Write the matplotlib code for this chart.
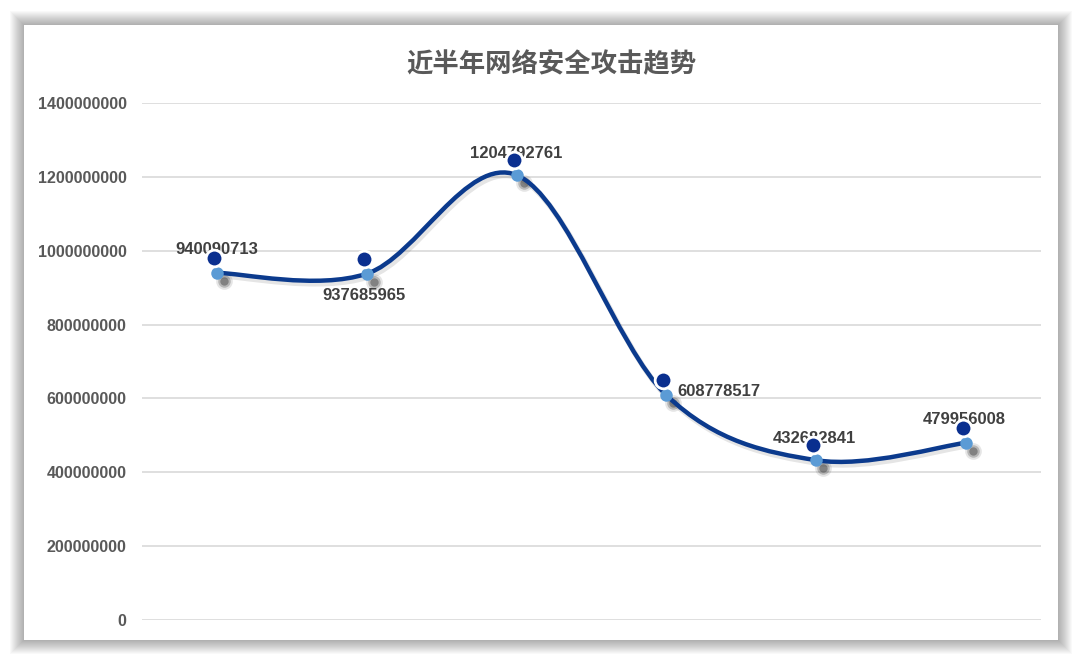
import matplotlib
matplotlib.use("Agg")
import matplotlib.pyplot as plt
import matplotlib.transforms as mtransforms
from matplotlib.path import Path
from matplotlib.patches import PathPatch, Rectangle
import numpy as np

plt.rcParams['font.family'] = ['Liberation Sans', 'Noto Sans CJK SC', 'DejaVu Sans']

title = '近半年网络安全攻击趋势'
values = [940090713, 937685965, 1204792761, 608778517, 432682841, 479956008]
y_ticks = [0, 200000000, 400000000, 600000000, 800000000, 1000000000, 1200000000, 1400000000]
# label offsets in pixels (dx, dy) and alignment per point
label_offsets = [(0, 23), (-3, -22), (0, 22), (11, 4), (-2, 22), (-2, 23)]
label_align = ['center', 'center', 'center', 'left', 'center', 'center']

W, H = 1080, 665
fig = plt.figure(figsize=(W / 100, H / 100), dpi=100)
fig.patch.set_facecolor('white')

# card with soft shadow
cx0, cy0, cx1, cy1 = 24, 25, 1058, 640
for i in range(14, 0, -1):
    fig.patches.append(Rectangle(((cx0 - i) / W, 1 - (cy1 + i) / H),
                                 (cx1 - cx0 + 2 * i) / W, (cy1 - cy0 + 2 * i) / H,
                                 transform=fig.transFigure, facecolor='black',
                                 alpha=0.022, edgecolor='none', zorder=0))
fig.patches.append(Rectangle((cx0 / W, 1 - cy1 / H), (cx1 - cx0) / W, (cy1 - cy0) / H,
                             transform=fig.transFigure, facecolor='white',
                             edgecolor='none', zorder=1))

ax = fig.add_axes([142 / W, (H - 620) / H, (1041 - 142) / W, (620 - 103) / H])
ax.set_facecolor('none')
ax.set_zorder(2)
x = np.arange(len(values))
ax.set_xlim(-0.5, len(values) - 0.5)
ax.set_ylim(0, 1400000000)
ax.set_yticks(y_ticks)
ax.set_yticklabels([str(t) for t in y_ticks])
ax.set_xticks([])
for s in ax.spines.values():
    s.set_visible(False)
ax.grid(axis='y', color='#d9d9d9', linewidth=1.2)
ax.set_axisbelow(True)
ax.tick_params(axis='y', length=0, pad=11, labelsize=11.5, labelcolor='#595959')
for lab in ax.get_yticklabels():
    lab.set_fontweight('bold')

# smooth line (Catmull-Rom style bezier like Excel)
pts = np.column_stack([x, values]).astype(float)
verts = [tuple(pts[0])]
codes = [Path.MOVETO]
n = len(pts)
for i in range(n - 1):
    p0 = pts[i - 1] if i > 0 else pts[i]
    p1 = pts[i]
    p2 = pts[i + 1]
    p3 = pts[i + 2] if i + 2 < n else pts[i + 1]
    c1 = p1 + (p2 - p0) / 6
    c2 = p2 - (p3 - p1) / 6
    verts += [tuple(c1), tuple(c2), tuple(p2)]
    codes += [Path.CURVE4] * 3
path = Path(verts, codes)

def px_offset(dx, dy):
    return ax.transData + mtransforms.ScaledTranslation(dx / 100, dy / 100, fig.dpi_scale_trans)

# line shadow
ax.add_patch(PathPatch(path, facecolor='none', edgecolor='black', alpha=0.10, lw=4,
                       transform=px_offset(2, -3), zorder=2))
ax.add_patch(PathPatch(path, facecolor='none', edgecolor='#0b3a8d', lw=3.2,
                       capstyle='round', zorder=3))

# marker shadows
for k, a in [(12, 0.12), (9, 0.25), (6, 0.4)]:
    ax.plot(x, values, 'o', ms=k, color='#303030', alpha=a, mec='none',
            transform=px_offset(7, -8), zorder=2.5)
ax.plot(x, values, 'o', ms=9, color='#5b9bd5', mec='none', zorder=4)

for xi, v, (dx, dy), ha in zip(x, values, label_offsets, label_align):
    ax.annotate(str(v), (xi, v), xytext=(dx * 0.72, dy * 0.72), textcoords='offset points',
                ha=ha, va='center', fontsize=12, fontweight='bold', color='#404040', zorder=5)

# decorative dark dots above points
ax.plot(x, values, 'o', ms=12, color='#0a2f8f', mec='white', mew=2,
        transform=px_offset(-3, 15), zorder=6)

fig.text(551 / W, 1 - 65 / H, title, ha='center', va='center', fontsize=19,
         fontweight='bold', color='#595959', family=['Noto Sans CJK SC', 'DejaVu Sans'])

fig.savefig('out.png', dpi=100)
